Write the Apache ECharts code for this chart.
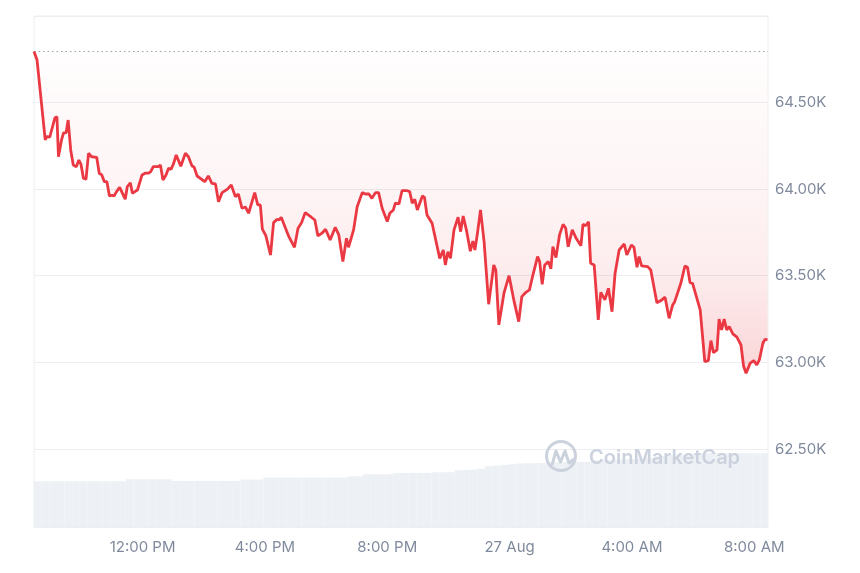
<!DOCTYPE html>
<html>
<head>
<meta charset="utf-8">
<script src="https://cdn.jsdelivr.net/npm/echarts@6.0.0/dist/echarts.min.js"></script>
<style>
  html, body { margin: 0; padding: 0; background: #fff; }
  #chart { width: 860px; height: 573px; }
</style>
</head>
<body>
<div id="chart"></div>
<script>
// price points: minutes after 26 Aug 08:27, price in USD
var minutes = [0,6,22,25,31,41,45,48,54,58,63,67,72,77,83,88,92,97,102,107,
  113,116,123,128,133,138,143,148,153,157,162,168,172,179,183,189,193,198,203,212,
  218,225,229,234,244,248,253,259,264,269,274,279,282,288,297,303,310,314,320,329,
  335,342,349,356,362,369,379,387,395,401,408,415,421,433,439,444,448,455,464,470,
  477,481,485,500,511,518,525,532,544,551,557,565,572,581,591,598,606,613,617,627,
  634,644,650,657,663,670,676,683,693,698,705,709,716,722,732,737,742,747,752,762,
  766,771,781,796,803,807,812,817,824,832,837,842,849,856,861,865,870,876,883,892,
  902,906,912,922,932,942,951,957,965,972,978,988,992,997,1002,1009,1014,1018,1024,1031,
  1038,1043,1048,1056,1063,1073,1077,1082,1088,1092,1099,1107,1112,1120,1127,1134,1140,1148,1158,1163,
  1172,1177,1183,1187,1192,1204,1210,1222,1230,1238,1246,1253,1257,1269,1277,1282,1287,1292,1307,1316,
  1323,1328,1333,1340,1344,1349,1354,1359,1364,1371,1379,1387,1392,1397,1405,1412,1418,1423,1430,1434,
  1439];
var prices = [64793,64744,64283,64302,64300,64410,64417,64186,64283,64323,
  64325,64398,64225,64138,64129,64167,64144,64062,64056,64206,
  64186,64175,64183,64091,64081,64042,64042,63960,63964,63960,
  63985,64010,63985,63941,64013,64036,63975,63985,63994,64081,
  64091,64091,64100,64129,64129,64138,64052,64081,64119,64114,
  64148,64196,64200,64131,64206,64186,64133,64127,64075,64056,
  64042,64075,64033,64029,63927,63979,63998,64023,63956,63971,
  63889,63896,63860,63979,63908,63908,63768,63729,63619,63806,
  63825,63821,63837,63725,63664,63773,63806,63863,63837,63821,
  63729,63745,63768,63706,63779,63735,63581,63716,63664,63764,
  63898,63979,63971,63971,63946,63979,63979,63889,63812,63860,
  63879,63918,63914,63990,63990,63985,63918,63941,63879,63960,
  63952,63850,63802,63600,63648,63562,63638,63600,63764,63837,
  63754,63844,63754,63641,63700,63648,63745,63879,63696,63335,
  63562,63533,63216,63399,63500,63350,63235,63379,63404,63418,
  63494,63610,63581,63450,63562,63581,63539,63667,63604,63735,
  63796,63775,63667,63764,63719,63673,63796,63788,63811,63572,
  63562,63245,63404,63360,63427,63292,63514,63648,63683,63619,
  63677,63664,63549,63610,63556,63552,63533,63344,63356,63376,
  63254,63331,63350,63456,63556,63549,63460,63456,63302,63004,
  63010,63125,63056,63072,63249,63187,63249,63187,63206,63164,
  63145,63100,62979,62937,62995,63010,62985,63014,63110,63133,
  63129];
// 15-minute volume bars (24h volume, billions USD)
var volumes = [18.3,18.3,18.3,18.3,18.3,18.3,18.3,18.3,18.3,18.3,18.3,18.3,
  19.1,19.1,19.1,19.1,19.1,19.1,
  18.4,18.4,18.4,18.4,18.4,18.4,18.4,18.4,18.4,
  19.0,19.0,19.0,
  19.8,19.8,19.8,19.8,19.8,19.8,19.8,19.8,19.8,19.8,19.8,
  20.3,20.3,
  21.1,21.1,21.1,21.1,
  21.6,21.6,21.6,21.6,21.6,
  21.9,21.9,21.9,
  22.7,22.8,23.0,23.3,
  24.3,24.6,24.8,25.1,
  25.4,25.5,25.5,25.6,
  25.9,25.9,26.0,26.0,26.1,26.1,
  26.7,26.8,26.9,27.0,27.1,27.2,27.4,27.5,
  28.3,28.5,28.7,28.9,29.1,29.2,29.3,
  29.5,29.5,29.5,29.5,29.5,29.5,29.5,29.5];
// x tick positions (hours after 26 Aug 00:00) and their labels
var tickHours = [12, 16, 20, 24, 28, 32];
var tickLabels = ['12:00 PM', '4:00 PM', '8:00 PM', '27 Aug', '4:00 AM', '8:00 AM'];

var dayStart = new Date(2024, 7, 26, 0, 0).getTime();
var start = new Date(2024, 7, 26, 8, 27).getTime();
var baseline = prices[0];

var lineData = minutes.map(function (m, i) {
  return [start + m * 60000, prices[i]];
});
var labelMap = {};
tickHours.forEach(function (h, i) {
  labelMap[dayStart + h * 3600000] = tickLabels[i];
});

var wmColor = '#cbd2dd';

var chart = echarts.init(document.getElementById('chart'));
chart.setOption({
  animation: false,
  textStyle: { fontFamily: 'Inter' },
  grid: {
    left: 34, right: 92, top: 16, bottom: 46,
    show: true,
    borderColor: '#eceef2',
    borderWidth: 1
  },
  xAxis: [
    {
      type: 'time',
      min: start,
      max: start + 1440 * 60000,
      minInterval: 4 * 3600000,
      maxInterval: 4 * 3600000,
      axisLine: { show: false },
      axisTick: { show: false },
      splitLine: { show: false },
      axisLabel: {
        color: '#808a9d',
        fontSize: 15,
        margin: 13,
        showMinLabel: false,
        showMaxLabel: false,
        formatter: function (val) {
          return labelMap[val] || '';
        }
      }
    },
    {
      type: 'category',
      show: false,
      boundaryGap: true,
      data: volumes.map(function (v, i) { return i; })
    }
  ],
  yAxis: [
    {
      type: 'value',
      position: 'right',
      min: 62050,
      max: 64998,
      axisLine: { show: false },
      axisTick: { show: false },
      splitLine: { lineStyle: { color: '#eceef2' } },
      axisLabel: {
        color: '#808a9d',
        fontSize: 15,
        margin: 7,
        showMinLabel: false,
        showMaxLabel: false,
        formatter: function (v) { return (v / 1000).toFixed(2) + 'K'; }
      }
    },
    {
      type: 'value',
      show: false,
      min: 0,
      max: 204.4,
      splitLine: { show: false }
    }
  ],
  series: [
    {
      type: 'bar',
      xAxisIndex: 1,
      yAxisIndex: 1,
      barCategoryGap: '0%',
      itemStyle: { color: '#edf0f4' },
      silent: true,
      data: volumes
    },
    {
      type: 'line',
      xAxisIndex: 0,
      yAxisIndex: 0,
      symbol: 'none',
      z: 5,
      lineStyle: { color: '#ea3943', width: 2.8 },
      areaStyle: {
        origin: baseline,
        color: new echarts.graphic.LinearGradient(0, 0, 0, 1, [
          { offset: 0, color: 'rgba(234,57,67,0.01)' },
          { offset: 0.4, color: 'rgba(234,57,67,0.07)' },
          { offset: 0.7, color: 'rgba(234,57,67,0.14)' },
          { offset: 1, color: 'rgba(234,57,67,0.30)' }
        ])
      },
      markLine: {
        silent: true,
        symbol: 'none',
        label: { show: false },
        lineStyle: { color: '#9ca3b2', type: [1.5, 3], width: 1 },
        data: [{ yAxis: baseline }]
      },
      data: lineData
    }
  ],
  graphic: [
    {
      type: 'circle',
      silent: true,
      z: 100,
      shape: { cx: 561, cy: 456, r: 14.5 },
      style: { fill: 'none', stroke: wmColor, lineWidth: 3 }
    },
    {
      type: 'polyline',
      silent: true,
      z: 100,
      shape: { points: [[552, 465], [556, 451], [560.5, 462], [565, 451], [569, 463], [574, 459]] },
      style: { fill: 'none', stroke: wmColor, lineWidth: 3, lineJoin: 'round' }
    },
    {
      type: 'text',
      silent: true,
      z: 100,
      x: 589,
      y: 458,
      style: {
        text: 'CoinMarketCap',
        font: '600 20px Inter',
        fill: wmColor,
        verticalAlign: 'middle'
      }
    }
  ]
});
</script>
</body>
</html>
